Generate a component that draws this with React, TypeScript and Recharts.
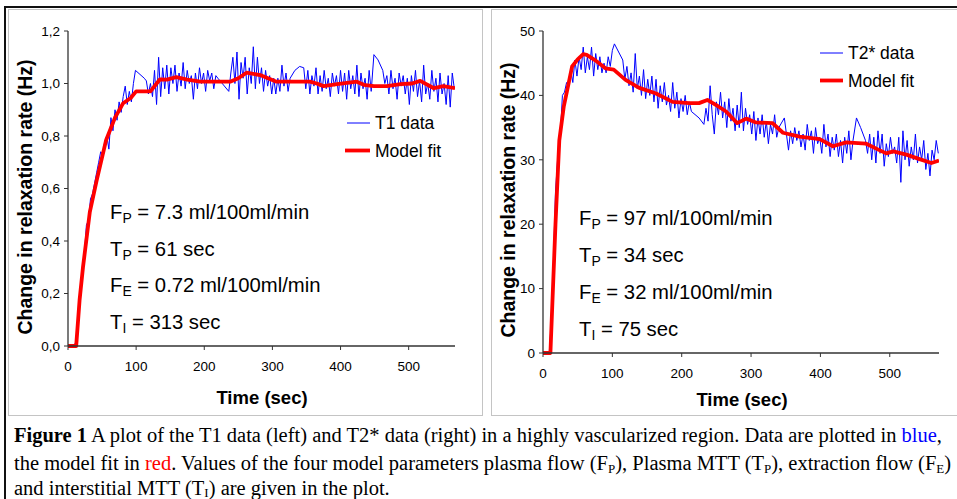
import React from "react";
import { LineChart, Line, XAxis, YAxis } from "recharts";

// ---------- Data ----------
const t1Time = [0,3,6,9,12,15,18,21,24,27,30,33,36,39,42,45,48,51,54,57,60,63,66,69,72,75,78,81,84,87,90,93,96,99,112,115,118,121,124,127,130,133,136,139,142,145,148,151,154,157,160,163,166,169,172,175,178,181,184,187,190,193,196,199,202,205,208,211,214,217,220,236,239,242,245,248,251,254,257,260,263,266,269,272,275,278,281,284,287,290,293,296,299,302,305,308,311,314,317,320,323,326,333,340,346,349,352,355,358,361,364,367,370,373,376,379,382,385,388,391,394,397,400,403,406,409,412,415,418,421,424,427,430,433,436,439,442,445,449,455,462,465,468,471,474,477,480,483,486,489,492,495,498,501,504,507,510,513,516,519,522,525,528,531,534,537,540,543,546,549,552,555,558,561,564,567];
const t1Data = [0,0,0,0,0.02,0.1,0.2,0.27,0.35,0.46,0.48,0.56,0.58,0.62,0.66,0.7,0.74,0.73,0.78,0.8,0.75,0.87,0.82,0.9,0.86,0.93,0.89,0.95,0.99,0.92,0.97,0.93,1.0,1.05,1.02,1.01,0.96,1.0,0.95,1.05,0.92,1.1,0.95,1.06,0.98,1.07,0.96,1.06,1.0,1.07,0.97,1.04,0.99,1.08,0.98,1.05,1.0,1.03,0.94,1.04,0.98,1.06,1.0,1.04,0.97,1.05,1.01,1.04,0.98,1.03,1.02,0.97,1.04,1.1,1.0,1.12,0.94,1.08,1.02,1.1,0.96,1.06,1.0,1.14,0.98,1.1,1.0,1.06,0.97,1.05,0.99,1.03,0.96,1.02,0.96,1.02,0.97,1.07,0.99,1.04,0.97,1.02,1.05,1.065,1.06,0.98,1.05,0.96,1.03,0.99,1.06,0.96,1.03,0.97,1.05,0.98,1.02,0.95,1.04,0.99,1.03,0.96,1.05,0.97,1.04,0.94,1.05,0.98,1.03,0.96,1.07,0.95,1.04,0.98,1.02,0.94,1.05,0.97,1.11,1.09,1.05,1.0,1.03,0.96,1.05,0.98,1.02,0.94,1.04,0.99,1.03,0.96,1.02,0.92,1.03,0.97,1.05,0.95,1.01,0.93,1.07,0.96,1.0,0.94,1.05,0.97,1.02,0.93,1.04,0.96,1.0,0.92,1.03,0.91,1.04,0.98];
const t1FitTime = [0,12,17,22,32,42,56,69,81,92,100,121,135,145,159,175,194,238,250,262,282,306,331,355,365,375,395,424,434,449,468,488,505,517,537,551,568];
const t1Fit = [0,0,0.175,0.3,0.51,0.63,0.785,0.87,0.925,0.945,0.97,0.97,1.016,1.015,1.024,1.015,1.007,1.007,1.02,1.041,1.032,1.007,1.007,1.007,1.0,0.99,0.998,1.007,0.995,0.99,0.99,0.998,1.0,1.01,0.982,0.99,0.982];

const t2Time = [0,3,6,9,12,15,18,21,24,28,31,34,37,40,43,46,49,52,55,58,61,64,67,70,73,76,79,82,85,88,91,94,97,100,103,115,118,121,124,127,130,133,136,139,142,145,148,151,154,157,160,163,166,169,172,175,178,181,184,187,190,193,196,199,202,205,208,211,214,225,232,235,238,241,244,247,250,253,256,259,262,265,268,271,274,277,280,283,286,289,292,295,298,301,304,307,310,313,316,319,322,325,328,331,334,337,340,348,351,354,357,360,363,366,369,372,375,378,381,384,387,390,393,396,399,402,405,408,411,414,417,420,423,426,429,432,435,438,441,444,447,452,458,465,468,471,474,477,480,483,486,489,492,495,498,501,504,507,510,513,516,519,522,525,528,531,534,537,540,543,546,549,552,555,558,561,564,567,570];
const t2Data = [0,0,0,0,5,14,25,30,32,40,40.5,42,41.5,44,42,45.5,43,46,44,47.5,43.5,46,44,47.5,43,46.5,44,46,43.5,45,43.5,46,44.5,47,48,45.5,42.5,44.5,41.5,43.5,40.5,46.5,41,43,40,44,39.5,42.5,40,43,39,42.5,38,41.5,39,42,38.5,40,37.5,42,38,40.5,36.5,39.5,37.5,40,37,39,37.5,36.5,35.5,38,36,41.5,37,34,39,37,40.5,36.5,39,35,39.5,36,38,34.5,38.5,35,40.5,34.5,38,35.5,37,34,37.5,33,36.5,34,37,33.5,36,32.5,35.5,34,37,33.5,35,36.5,34,31.5,34.5,32.5,35,33,34.5,32,34,31.5,35.5,33,34.5,31,35,32.5,33.5,31,35.5,32,34,30.5,33.5,31.5,34,30.5,33,29.5,33.5,31,34.5,30,33,36.5,35,33,31,34,30,33.5,29.5,34.5,31,34,29,32.5,30.5,33.5,31,32,29.5,33.5,26.5,34.5,30,33,29,32,30,34,29.5,32,30,33,28.5,31,27.5,31.5,30,33,31];
const t2FitTime = [0,10.7,18,23.5,30,37,42,50,58,63,76,90,102,119,138,163,187,211,225,237,254,264,280,293,307,331,346,370,399,418,437,466,485,495,505,524,543,560,571];
const t2Fit = [0,0,20,33,38.3,41.9,44.5,45.6,46.4,46.3,45.4,44.2,44,42.4,41.2,40.3,39,38.8,38.8,39.3,38.2,37.5,35.7,36.4,35.8,35.7,34.2,33.6,33.2,32.1,32.7,32.5,31.5,31,31.3,30.8,30.1,29.5,29.9];

const xTicks = [0, 100, 200, 300, 400, 500];
const t1YTicks = [0, 0.2, 0.4, 0.6, 0.8, 1.0, 1.2];
const t2YTicks = [0, 10, 20, 30, 40, 50];

const zip = (ts: number[], vs: number[]) => ts.map((t, i) => ({ t, v: vs[i] }));
const t1Series = zip(t1Time, t1Data);
const t1FitSeries = zip(t1FitTime, t1Fit);
const t2Series = zip(t2Time, t2Data);
const t2FitSeries = zip(t2FitTime, t2Fit);

const SANS = "'Liberation Sans', Arial, sans-serif";
const SERIF = "'Liberation Serif', 'Times New Roman', serif";
const tickStyle = { fontSize: 13.5, fill: "#000", fontFamily: SANS };
const AX = "#333";

function Panel(props: {
  width: number; height: number; margin: any; yw: number; xh: number;
  xMax: number; yDomain: [number, number]; yTicks: number[]; yFmt: (v: number) => string;
  data: any[]; fit: any[];
}) {
  const { width, height, margin, yw, xh, xMax, yDomain, yTicks, yFmt, data, fit } = props;
  return (
    <LineChart width={width} height={height} margin={margin}>
      <XAxis xAxisId="b" type="number" dataKey="t" domain={[0, xMax]} ticks={xTicks}
        allowDataOverflow tick={tickStyle} tickSize={4} tickMargin={11} height={xh}
        axisLine={{ stroke: AX, strokeWidth: 1.3 }} tickLine={{ stroke: AX }} />
      <XAxis xAxisId="top" orientation="top" type="number" dataKey="t" domain={[0, xMax]}
        tick={false} tickLine={false} height={0} axisLine={{ stroke: AX, strokeWidth: 1.3 }} />
      <YAxis yAxisId="l" type="number" domain={yDomain} ticks={yTicks} tickFormatter={yFmt}
        tick={tickStyle} tickSize={4} tickMargin={4} width={yw}
        axisLine={{ stroke: AX, strokeWidth: 1.3 }} tickLine={{ stroke: AX }} />
      <YAxis yAxisId="r" orientation="right" type="number" domain={yDomain}
        tick={false} tickLine={false} width={0} axisLine={{ stroke: AX, strokeWidth: 1.3 }} />
      <Line xAxisId="b" yAxisId="l" data={data} dataKey="v" type="linear" stroke="#0000ff"
        strokeWidth={1} dot={false} isAnimationActive={false} />
      <Line xAxisId="b" yAxisId="l" data={fit} dataKey="v" type="linear" stroke="#ff0000"
        strokeWidth={3.8} dot={false} isAnimationActive={false} strokeLinejoin="round" />
    </LineChart>
  );
}

function Param(props: { x: number; y: number; main: string; sub: string; rest: string }) {
  const { x, y, main, sub, rest } = props;
  return (
    <text x={x} y={y} fontFamily={SANS} fontSize={20.3} fill="#000" dominantBaseline="central">
      {main}
      <tspan fontSize={14} dy={6}>{sub}</tspan>
      <tspan dy={-6}>{rest}</tspan>
    </text>
  );
}

const subStyle: React.CSSProperties = { fontSize: 13, verticalAlign: "-3px", lineHeight: 0 };
const capLine: React.CSSProperties = { position: "absolute", left: 14, height: 27, lineHeight: "27px", whiteSpace: "nowrap" };

export default function App() {
  const fmtComma = (v: number) => v.toFixed(1).replace(".", ",");
  const fmtInt = (v: number) => String(v);
  return (
    <div style={{ position: "absolute", left: 0, top: 0, width: 957, height: 499, background: "#fff", overflow: "hidden" }}>
      {/* frames */}
      <div style={{ position: "absolute", left: 5, top: 6, width: 952, height: 2, background: "#111" }} />
      <div style={{ position: "absolute", left: 4, top: 6, width: 2, height: 493, background: "#111" }} />
      <div style={{ position: "absolute", left: 8, top: 9, width: 473, height: 405, border: "1px solid #c4c4c4" }} />
      <div style={{ position: "absolute", left: 491, top: 9, width: 470, height: 405, border: "1px solid #c4c4c4" }} />

      <div style={{ position: "absolute", left: 0, top: 0 }}>
        <Panel width={480} height={420} margin={{ top: 31, right: 25, bottom: 44, left: 28 }} yw={40} xh={30}
          xMax={568} yDomain={[0, 1.2]} yTicks={t1YTicks} yFmt={fmtComma} data={t1Series} fit={t1FitSeries} />
      </div>
      <div style={{ position: "absolute", left: 480, top: 0 }}>
        <Panel width={477} height={420} margin={{ top: 31, right: 18, bottom: 37, left: 23 }} yw={40} xh={30}
          xMax={571} yDomain={[0, 50]} yTicks={t2YTicks} yFmt={fmtInt} data={t2Series} fit={t2FitSeries} />
      </div>

      <svg width={957} height={499} style={{ position: "absolute", left: 0, top: 0, pointerEvents: "none" }}>
        {/* axis titles */}
        <text x={25} y={197} transform="rotate(-90 25 197)" textAnchor="middle" dominantBaseline="central"
          fontFamily={SANS} fontWeight="bold" fontSize={19.5}>Change in relaxation rate (Hz)</text>
        <text x={262} y={397} textAnchor="middle" dominantBaseline="central"
          fontFamily={SANS} fontWeight="bold" fontSize={18.5}>Time (sec)</text>
        <text x={508} y={200} transform="rotate(-90 508 200)" textAnchor="middle" dominantBaseline="central"
          fontFamily={SANS} fontWeight="bold" fontSize={19.5}>Change in relaxation rate (Hz)</text>
        <text x={742} y={399} textAnchor="middle" dominantBaseline="central"
          fontFamily={SANS} fontWeight="bold" fontSize={18.5}>Time (sec)</text>

        {/* legends */}
        <line x1={347} x2={370} y1={123} y2={123} stroke="#0000ff" strokeWidth={1} />
        <text x={375} y={123} dominantBaseline="central" fontFamily={SANS} fontSize={17.5}>T1 data</text>
        <line x1={345} x2={370} y1={150.5} y2={150.5} stroke="#ff0000" strokeWidth={3.8} />
        <text x={375} y={150.5} dominantBaseline="central" fontFamily={SANS} fontSize={17.5}>Model fit</text>

        <line x1={820} x2={843} y1={53} y2={53} stroke="#0000ff" strokeWidth={1} />
        <text x={848} y={53} dominantBaseline="central" fontFamily={SANS} fontSize={17.5}>T2* data</text>
        <line x1={820} x2={843} y1={80.5} y2={80.5} stroke="#ff0000" strokeWidth={3.8} />
        <text x={848} y={80.5} dominantBaseline="central" fontFamily={SANS} fontSize={17.5}>Model fit</text>

        {/* parameters */}
        <Param x={110} y={212} main="F" sub="P" rest=" = 7.3 ml/100ml/min" />
        <Param x={110} y={249} main="T" sub="P" rest=" = 61 sec" />
        <Param x={110} y={285} main="F" sub="E" rest=" = 0.72 ml/100ml/min" />
        <Param x={110} y={322} main="T" sub="I" rest=" = 313 sec" />

        <Param x={579} y={218} main="F" sub="P" rest=" = 97 ml/100ml/min" />
        <Param x={579} y={255} main="T" sub="P" rest=" = 34 sec" />
        <Param x={579} y={292} main="F" sub="E" rest=" = 32 ml/100ml/min" />
        <Param x={579} y={329} main="T" sub="I" rest=" = 75 sec" />
      </svg>

      {/* caption */}
      <div style={{ position: "absolute", left: 0, top: 0, width: 957, height: 499, fontFamily: SERIF, fontSize: 20.5, color: "#000" }}>
        <div style={{ ...capLine, top: 422 }}><b>Figure 1</b> A plot of the T1 data (left) and T2* data (right) in a highly vascularized region. Data are plotted in <span style={{ color: "#0000ff" }}>blue</span>,</div>
        <div style={{ ...capLine, top: 450 }}>the model fit in <span style={{ color: "#ff0000" }}>red</span>. Values of the four model parameters plasma flow (F<span style={subStyle}>P</span>), Plasma MTT (T<span style={subStyle}>P</span>), extraction flow (F<span style={subStyle}>E</span>)</div>
        <div style={{ ...capLine, top: 475, height: 24 }}>and interstitial MTT (T<span style={{ ...subStyle, verticalAlign: "-2px" }}>I</span>) are given in the plot.</div>
      </div>
    </div>
  );
}
